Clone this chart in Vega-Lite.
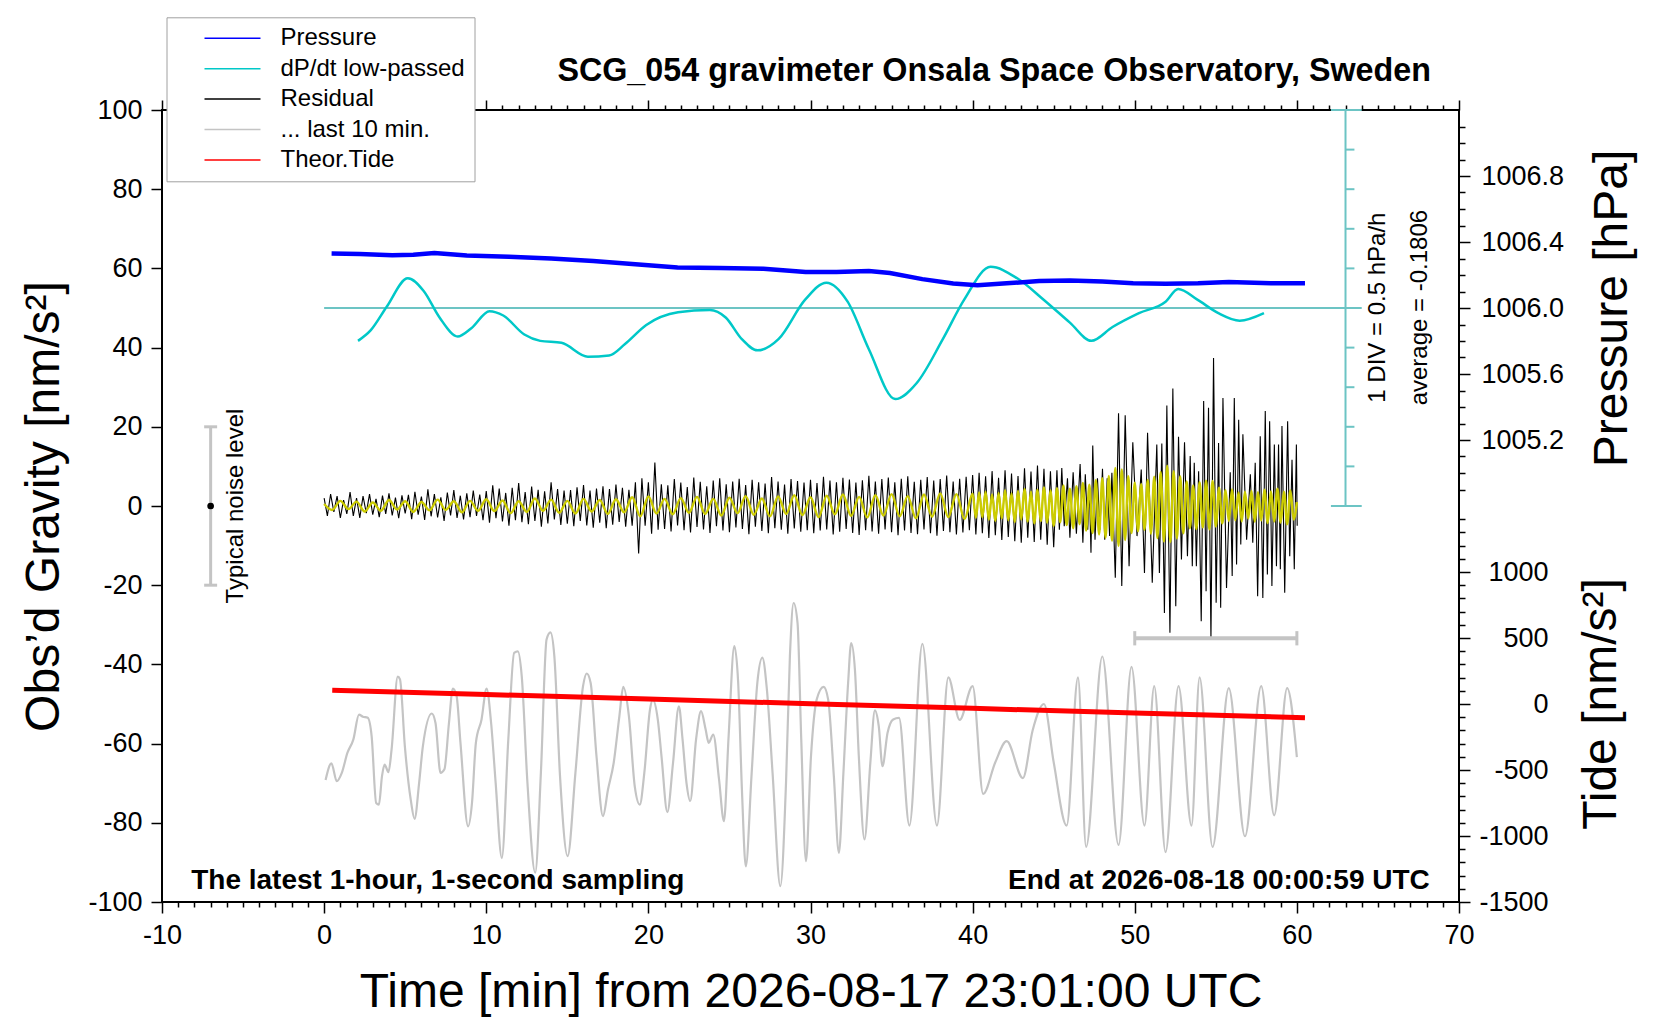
{
  "$schema": "https://vega.github.io/schema/vega-lite/v6.json",
  "width": 1297,
  "height": 792,
  "autosize": {"type": "none"},
  "padding": {"left": 162, "top": 110, "right": 201, "bottom": 118},
  "background": "white",
  "title": {
    "text": "SCG_054 gravimeter Onsala Space Observatory, Sweden",
    "anchor": "end", "frame": "group", "font": "Liberation Sans", "fontSize": 32.3, "fontWeight": "bold",
    "color": "black", "baseline": "alphabetic", "offset": 0, "dx": -28, "dy": 96
  },
  "datasets": {
    "pressure": [
      {"t": 0.46, "p": 1006.330}, {"t": 2.2, "p": 1006.327}, {"t": 4.2, "p": 1006.320}, {"t": 5.5, "p": 1006.323},
      {"t": 6.8, "p": 1006.333}, {"t": 8.8, "p": 1006.318}, {"t": 11.4, "p": 1006.310}, {"t": 14.0, "p": 1006.300},
      {"t": 16.6, "p": 1006.285}, {"t": 19.2, "p": 1006.265}, {"t": 21.8, "p": 1006.245}, {"t": 24.4, "p": 1006.242},
      {"t": 27.1, "p": 1006.238}, {"t": 29.7, "p": 1006.218}, {"t": 31.6, "p": 1006.218}, {"t": 33.6, "p": 1006.224},
      {"t": 34.9, "p": 1006.212}, {"t": 36.9, "p": 1006.175}, {"t": 38.8, "p": 1006.148}, {"t": 40.3, "p": 1006.138},
      {"t": 42.1, "p": 1006.150}, {"t": 44.1, "p": 1006.163}, {"t": 46.0, "p": 1006.166}, {"t": 48.0, "p": 1006.160},
      {"t": 49.9, "p": 1006.150}, {"t": 51.9, "p": 1006.147}, {"t": 53.9, "p": 1006.150}, {"t": 55.8, "p": 1006.157},
      {"t": 58.4, "p": 1006.150}, {"t": 60.5, "p": 1006.150}
    ],
    "dpdt": [
      {"t": 2.09, "g": 41.7}, {"t": 2.88, "g": 44.4}, {"t": 3.86, "g": 50.3}, {"t": 5.16, "g": 57.5}, {"t": 6.14, "g": 54.3},
      {"t": 7.12, "g": 47.6}, {"t": 8.24, "g": 42.8}, {"t": 9.08, "g": 44.9}, {"t": 10.2, "g": 49.2}, {"t": 11.05, "g": 48.1},
      {"t": 12.35, "g": 43.3}, {"t": 13.33, "g": 41.7}, {"t": 14.64, "g": 41.2}, {"t": 16.27, "g": 37.7}, {"t": 17.58, "g": 38.0},
      {"t": 18.56, "g": 40.9}, {"t": 19.87, "g": 45.7}, {"t": 21.83, "g": 48.9}, {"t": 23.79, "g": 49.5}, {"t": 24.77, "g": 47.6},
      {"t": 25.75, "g": 42.2}, {"t": 26.73, "g": 39.3}, {"t": 28.04, "g": 42.2}, {"t": 29.67, "g": 52.1}, {"t": 30.98, "g": 56.4},
      {"t": 32.29, "g": 51.6}, {"t": 33.6, "g": 39.6}, {"t": 35.23, "g": 27.0}, {"t": 36.54, "g": 31.0}, {"t": 38.17, "g": 42.2},
      {"t": 39.48, "g": 52.1}, {"t": 41.11, "g": 60.4}, {"t": 42.75, "g": 57.5}, {"t": 44.38, "g": 52.1}, {"t": 46.0, "g": 46.3},
      {"t": 47.32, "g": 41.7}, {"t": 48.63, "g": 45.2}, {"t": 50.26, "g": 48.7}, {"t": 51.9, "g": 51.6}, {"t": 52.68, "g": 54.8},
      {"t": 53.86, "g": 52.1}, {"t": 55.16, "g": 48.7}, {"t": 56.47, "g": 46.8}, {"t": 57.97, "g": 48.7}
    ],
    "tide": [
      {"t": 0.5, "tide": 105}, {"t": 10, "tide": 72}, {"t": 20, "tide": 37}, {"t": 30, "tide": 2},
      {"t": 40, "tide": -33}, {"t": 50, "tide": -68}, {"t": 60.5, "tide": -104}
    ],
    "grey": [
      {"t": 0.09, "g": -69.2}, {"t": 0.45, "g": -65.0}, {"t": 0.78, "g": -69.5}, {"t": 1.09, "g": -67.4}, {"t": 1.44, "g": -62.3},
      {"t": 1.80, "g": -59.0}, {"t": 2.15, "g": -52.7}, {"t": 2.39, "g": -53.2}, {"t": 2.69, "g": -53.5}, {"t": 2.93, "g": -58.1},
      {"t": 3.21, "g": -75.0}, {"t": 3.38, "g": -75.4}, {"t": 3.57, "g": -68.2}, {"t": 3.73, "g": -65.3}, {"t": 3.97, "g": -67.2},
      {"t": 4.16, "g": -61.5}, {"t": 4.54, "g": -43.1}, {"t": 4.68, "g": -43.8}, {"t": 4.98, "g": -60.7}, {"t": 5.34, "g": -74.1},
      {"t": 5.58, "g": -79.0}, {"t": 5.86, "g": -69.9}, {"t": 6.09, "g": -60.7}, {"t": 6.64, "g": -52.4}, {"t": 6.87, "g": -54.8},
      {"t": 7.18, "g": -67.4}, {"t": 7.42, "g": -66.5}, {"t": 7.70, "g": -54.8}, {"t": 7.94, "g": -46.1}, {"t": 8.17, "g": -48.0},
      {"t": 8.41, "g": -59.8}, {"t": 8.88, "g": -80.9}, {"t": 9.12, "g": -75.0}, {"t": 9.36, "g": -59.8}, {"t": 9.71, "g": -53.9},
      {"t": 10.02, "g": -46.1}, {"t": 10.30, "g": -54.8}, {"t": 10.58, "g": -69.9}, {"t": 10.96, "g": -88.9}, {"t": 11.36, "g": -59.0},
      {"t": 11.72, "g": -37.1}, {"t": 11.95, "g": -36.7}, {"t": 12.19, "g": -43.0}, {"t": 12.54, "g": -69.9}, {"t": 13.02, "g": -92.6},
      {"t": 13.37, "g": -67.4}, {"t": 13.72, "g": -33.7}, {"t": 13.96, "g": -31.9}, {"t": 14.20, "g": -37.9}, {"t": 14.55, "g": -68.2},
      {"t": 15.02, "g": -88.4}, {"t": 15.50, "g": -67.4}, {"t": 15.97, "g": -45.5}, {"t": 16.20, "g": -42.3}, {"t": 16.44, "g": -44.7},
      {"t": 16.80, "g": -63.2}, {"t": 17.20, "g": -78.3}, {"t": 17.51, "g": -71.6}, {"t": 17.86, "g": -64.9}, {"t": 18.21, "g": -53.1},
      {"t": 18.45, "g": -45.7}, {"t": 18.80, "g": -53.1}, {"t": 19.16, "g": -70.8}, {"t": 19.47, "g": -75.4}, {"t": 19.75, "g": -67.4},
      {"t": 20.10, "g": -51.4}, {"t": 20.27, "g": -48.9}, {"t": 20.58, "g": -53.9}, {"t": 20.81, "g": -63.2}, {"t": 21.17, "g": -77.3},
      {"t": 21.52, "g": -64.9}, {"t": 21.88, "g": -50.6}, {"t": 22.11, "g": -59.0}, {"t": 22.35, "g": -69.9}, {"t": 22.58, "g": -74.5},
      {"t": 22.94, "g": -59.0}, {"t": 23.25, "g": -51.8}, {"t": 23.53, "g": -56.4}, {"t": 23.72, "g": -59.8}, {"t": 24.00, "g": -57.7},
      {"t": 24.36, "g": -69.1}, {"t": 24.66, "g": -79.6}, {"t": 24.95, "g": -58.1}, {"t": 25.30, "g": -35.4}, {"t": 25.54, "g": -44.7},
      {"t": 25.77, "g": -71.6}, {"t": 26.01, "g": -91.0}, {"t": 26.36, "g": -68.2}, {"t": 26.72, "g": -44.7}, {"t": 27.03, "g": -38.3},
      {"t": 27.31, "g": -46.3}, {"t": 27.66, "g": -67.4}, {"t": 28.14, "g": -96.0}, {"t": 28.49, "g": -69.9}, {"t": 28.73, "g": -37.9},
      {"t": 28.96, "g": -24.5}, {"t": 29.20, "g": -29.5}, {"t": 29.43, "g": -59.0}, {"t": 29.72, "g": -89.7}, {"t": 30.03, "g": -63.2},
      {"t": 30.38, "g": -48.9}, {"t": 30.81, "g": -45.7}, {"t": 31.09, "g": -48.9}, {"t": 31.44, "g": -68.2}, {"t": 31.75, "g": -87.6},
      {"t": 32.03, "g": -67.4}, {"t": 32.32, "g": -44.7}, {"t": 32.51, "g": -34.6}, {"t": 32.74, "g": -41.3}, {"t": 32.98, "g": -63.2},
      {"t": 33.33, "g": -84.2}, {"t": 33.69, "g": -64.9}, {"t": 33.97, "g": -51.6}, {"t": 34.21, "g": -55.6}, {"t": 34.44, "g": -65.7},
      {"t": 34.75, "g": -57.3}, {"t": 35.10, "g": -53.9}, {"t": 35.46, "g": -53.5}, {"t": 36.1, "g": -80.7}, {"t": 36.9, "g": -34.8},
      {"t": 37.8, "g": -80.7}, {"t": 38.5, "g": -43.3}, {"t": 39.2, "g": -54.0}, {"t": 40.0, "g": -45.5}, {"t": 40.65, "g": -72.7},
      {"t": 41.4, "g": -64.7}, {"t": 42.1, "g": -59.4}, {"t": 43.1, "g": -68.7}, {"t": 43.7, "g": -56.7}, {"t": 44.4, "g": -50.0},
      {"t": 45.0, "g": -64.7}, {"t": 45.8, "g": -80.7}, {"t": 46.5, "g": -43.3}, {"t": 47.0, "g": -86.1}, {"t": 48.0, "g": -38.0},
      {"t": 49.0, "g": -85.6}, {"t": 49.8, "g": -40.6}, {"t": 50.6, "g": -80.7}, {"t": 51.2, "g": -45.5}, {"t": 51.9, "g": -87.4},
      {"t": 52.7, "g": -45.5}, {"t": 53.5, "g": -80.7}, {"t": 54.0, "g": -43.3}, {"t": 54.8, "g": -86.1}, {"t": 55.8, "g": -46.0},
      {"t": 56.8, "g": -83.4}, {"t": 57.8, "g": -45.5}, {"t": 58.6, "g": -78.1}, {"t": 59.4, "g": -46.0}, {"t": 60.0, "g": -63.4}
    ],
    "residual": [
      {"t": 0.0, "g": 2.0}, {"t": 0.2, "g": -2.5}, {"t": 0.4, "g": 3.0}, {"t": 0.6, "g": -1.5}, {"t": 0.8, "g": 2.5},
      {"t": 1.0, "g": -3.0}, {"t": 1.2, "g": 1.5}, {"t": 1.4, "g": -2.0}, {"t": 1.6, "g": 3.5}, {"t": 1.8, "g": -2.5},
      {"t": 2.0, "g": 2.0}, {"t": 2.2, "g": -3.0}, {"t": 2.4, "g": 2.5}, {"t": 2.6, "g": -1.8}, {"t": 2.8, "g": 3.0},
      {"t": 3.0, "g": -2.2}, {"t": 3.2, "g": 1.8}, {"t": 3.4, "g": -2.8}, {"t": 3.6, "g": 2.6}, {"t": 3.8, "g": -2.0},
      {"t": 4.0, "g": 3.2}, {"t": 4.2, "g": -2.4}, {"t": 4.4, "g": 2.1}, {"t": 4.6, "g": -3.1}, {"t": 4.8, "g": 2.7},
      {"t": 5.0, "g": -1.9}, {"t": 5.2, "g": 2.8}, {"t": 5.4, "g": -3.3}, {"t": 5.6, "g": 3.6}, {"t": 5.8, "g": -2.2},
      {"t": 6.0, "g": 2.4}, {"t": 6.2, "g": -3.5}, {"t": 6.4, "g": 4.2}, {"t": 6.6, "g": -2.6}, {"t": 6.8, "g": 3.0},
      {"t": 7.0, "g": -2.9}, {"t": 7.2, "g": 2.2}, {"t": 7.4, "g": -3.8}, {"t": 7.6, "g": 3.4}, {"t": 7.8, "g": -2.4},
      {"t": 8.0, "g": 4.0}, {"t": 8.2, "g": -3.0}, {"t": 8.4, "g": 2.6}, {"t": 8.6, "g": -3.4}, {"t": 8.8, "g": 3.2},
      {"t": 9.0, "g": -2.8}, {"t": 9.2, "g": 3.9}, {"t": 9.4, "g": -2.5}, {"t": 9.6, "g": 2.9}, {"t": 9.8, "g": -3.6},
      {"t": 10.0, "g": 3.8}, {"t": 10.2, "g": -4.2}, {"t": 10.4, "g": 5.2}, {"t": 10.6, "g": -3.1}, {"t": 10.8, "g": 4.4},
      {"t": 11.0, "g": -3.9}, {"t": 11.2, "g": 3.3}, {"t": 11.4, "g": -5.0}, {"t": 11.6, "g": 4.6}, {"t": 11.8, "g": -3.6},
      {"t": 12.0, "g": 5.8}, {"t": 12.2, "g": -4.1}, {"t": 12.4, "g": 3.5}, {"t": 12.6, "g": -4.6}, {"t": 12.8, "g": 4.9},
      {"t": 13.0, "g": -3.8}, {"t": 13.2, "g": 4.1}, {"t": 13.4, "g": -5.2}, {"t": 13.6, "g": 3.7}, {"t": 13.8, "g": -4.4},
      {"t": 14.0, "g": 6.0}, {"t": 14.2, "g": -3.4}, {"t": 14.4, "g": 4.3}, {"t": 14.6, "g": -4.8}, {"t": 14.8, "g": 3.9},
      {"t": 15.0, "g": -4.5}, {"t": 15.2, "g": 4.0}, {"t": 15.4, "g": -5.1}, {"t": 15.6, "g": 4.7}, {"t": 15.8, "g": -3.8},
      {"t": 16.0, "g": 5.3}, {"t": 16.2, "g": -4.9}, {"t": 16.4, "g": 3.9}, {"t": 16.6, "g": -5.5}, {"t": 16.8, "g": 4.4},
      {"t": 17.0, "g": -4.2}, {"t": 17.2, "g": 5.0}, {"t": 17.4, "g": -5.6}, {"t": 17.6, "g": 4.3}, {"t": 17.8, "g": -4.7},
      {"t": 18.0, "g": 5.4}, {"t": 18.2, "g": -4.0}, {"t": 18.4, "g": 4.6}, {"t": 18.6, "g": -5.2}, {"t": 18.8, "g": 4.1},
      {"t": 19.0, "g": -5.0}, {"t": 19.2, "g": 6.0}, {"t": 19.4, "g": -12.0}, {"t": 19.6, "g": 7.0}, {"t": 19.8, "g": -5.0},
      {"t": 20.0, "g": 6.0}, {"t": 20.2, "g": -7.0}, {"t": 20.4, "g": 11.0}, {"t": 20.6, "g": -6.0}, {"t": 20.8, "g": 5.5},
      {"t": 21.0, "g": -5.8}, {"t": 21.2, "g": 5.2}, {"t": 21.4, "g": -6.4}, {"t": 21.6, "g": 6.8}, {"t": 21.8, "g": -4.9},
      {"t": 22.0, "g": 5.9}, {"t": 22.2, "g": -6.1}, {"t": 22.4, "g": 4.8}, {"t": 22.6, "g": -6.7}, {"t": 22.8, "g": 7.2},
      {"t": 23.0, "g": -5.3}, {"t": 23.2, "g": 6.1}, {"t": 23.4, "g": -5.9}, {"t": 23.6, "g": 5.0}, {"t": 23.8, "g": -6.8},
      {"t": 24.0, "g": 6.4}, {"t": 24.2, "g": -5.1}, {"t": 24.4, "g": 7.0}, {"t": 24.6, "g": -6.2}, {"t": 24.8, "g": 5.5},
      {"t": 25.0, "g": -6.6}, {"t": 25.2, "g": 6.2}, {"t": 25.4, "g": -5.4}, {"t": 25.6, "g": 6.9}, {"t": 25.8, "g": -5.8},
      {"t": 26.0, "g": 5.3}, {"t": 26.2, "g": -7.1}, {"t": 26.4, "g": 6.6}, {"t": 26.6, "g": -5.2}, {"t": 26.8, "g": 6.0},
      {"t": 27.0, "g": -6.3}, {"t": 27.2, "g": 5.7}, {"t": 27.4, "g": -6.9}, {"t": 27.6, "g": 7.3}, {"t": 27.8, "g": -5.6},
      {"t": 28.0, "g": 6.2}, {"t": 28.2, "g": -6.0}, {"t": 28.4, "g": 5.4}, {"t": 28.6, "g": -7.0}, {"t": 28.8, "g": 6.8},
      {"t": 29.0, "g": -5.7}, {"t": 29.2, "g": 6.3}, {"t": 29.4, "g": -6.5}, {"t": 29.6, "g": 5.9}, {"t": 29.8, "g": -6.1},
      {"t": 30.0, "g": 6.6}, {"t": 30.2, "g": -6.9}, {"t": 30.4, "g": 5.8}, {"t": 30.6, "g": -6.2}, {"t": 30.8, "g": 7.4},
      {"t": 31.0, "g": -5.9}, {"t": 31.2, "g": 6.4}, {"t": 31.4, "g": -7.2}, {"t": 31.6, "g": 6.0}, {"t": 31.8, "g": -6.5},
      {"t": 32.0, "g": 7.1}, {"t": 32.2, "g": -5.8}, {"t": 32.4, "g": 6.7}, {"t": 32.6, "g": -6.8}, {"t": 32.8, "g": 5.9},
      {"t": 33.0, "g": -7.3}, {"t": 33.2, "g": 6.5}, {"t": 33.4, "g": -6.1}, {"t": 33.6, "g": 7.6}, {"t": 33.8, "g": -6.4},
      {"t": 34.0, "g": 6.2}, {"t": 34.2, "g": -7.0}, {"t": 34.4, "g": 6.8}, {"t": 34.6, "g": -5.9}, {"t": 34.8, "g": 7.2},
      {"t": 35.0, "g": -6.6}, {"t": 35.2, "g": 6.0}, {"t": 35.4, "g": -7.4}, {"t": 35.6, "g": 6.9}, {"t": 35.8, "g": -6.2},
      {"t": 36.0, "g": 7.5}, {"t": 36.2, "g": -6.8}, {"t": 36.4, "g": 6.1}, {"t": 36.6, "g": -7.1}, {"t": 36.8, "g": 6.6},
      {"t": 37.0, "g": -5.9}, {"t": 37.2, "g": 7.3}, {"t": 37.4, "g": -6.9}, {"t": 37.6, "g": 6.4}, {"t": 37.8, "g": -7.5},
      {"t": 38.0, "g": 6.8}, {"t": 38.2, "g": -6.3}, {"t": 38.4, "g": 7.7}, {"t": 38.6, "g": -6.6}, {"t": 38.8, "g": 6.2},
      {"t": 39.0, "g": -7.2}, {"t": 39.2, "g": 6.9}, {"t": 39.4, "g": -6.7}, {"t": 39.6, "g": 7.4}, {"t": 39.8, "g": -6.1},
      {"t": 40.0, "g": 7.8}, {"t": 40.2, "g": -7.2}, {"t": 40.4, "g": 8.4}, {"t": 40.6, "g": -6.9}, {"t": 40.8, "g": 7.5},
      {"t": 41.0, "g": -8.1}, {"t": 41.2, "g": 8.8}, {"t": 41.4, "g": -7.4}, {"t": 41.6, "g": 7.1}, {"t": 41.8, "g": -8.6},
      {"t": 42.0, "g": 9.0}, {"t": 42.2, "g": -7.8}, {"t": 42.4, "g": 8.2}, {"t": 42.6, "g": -8.9}, {"t": 42.8, "g": 7.6},
      {"t": 43.0, "g": -9.3}, {"t": 43.2, "g": 9.5}, {"t": 43.4, "g": -8.0}, {"t": 43.6, "g": 8.7}, {"t": 43.8, "g": -9.1},
      {"t": 44.0, "g": 10.2}, {"t": 44.2, "g": -8.5}, {"t": 44.4, "g": 9.4}, {"t": 44.6, "g": -9.8}, {"t": 44.8, "g": 8.8},
      {"t": 45.0, "g": -10.4}, {"t": 45.2, "g": 9.0}, {"t": 45.35, "g": -6.0}, {"t": 45.5, "g": 9.6}, {"t": 45.65, "g": -5.1},
      {"t": 45.85, "g": 7.0}, {"t": 46.0, "g": -8.0}, {"t": 46.2, "g": 8.5}, {"t": 46.4, "g": -7.0}, {"t": 46.63, "g": 10.6},
      {"t": 46.8, "g": -9.3}, {"t": 46.95, "g": 8.0}, {"t": 47.1, "g": -6.0}, {"t": 47.2, "g": 5.0}, {"t": 47.3, "g": -11.8},
      {"t": 47.41, "g": 15.3}, {"t": 47.55, "g": -8.5}, {"t": 47.7, "g": 7.0}, {"t": 47.85, "g": -6.0}, {"t": 48.01, "g": 9.4},
      {"t": 48.15, "g": -8.5}, {"t": 48.3, "g": 7.0}, {"t": 48.45, "g": -7.6}, {"t": 48.59, "g": 8.4}, {"t": 48.8, "g": -18.1},
      {"t": 49.0, "g": 23.4}, {"t": 49.2, "g": -20.2}, {"t": 49.41, "g": 22.9}, {"t": 49.65, "g": -15.2}, {"t": 49.88, "g": 16.1},
      {"t": 50.14, "g": -7.6}, {"t": 50.4, "g": 9.2}, {"t": 50.6, "g": -16.9}, {"t": 50.79, "g": 18.5}, {"t": 51.08, "g": -19.4},
      {"t": 51.36, "g": 15.5}, {"t": 51.52, "g": -16.9}, {"t": 51.67, "g": 15.8}, {"t": 51.83, "g": -27.0}, {"t": 51.98, "g": 25.4},
      {"t": 52.17, "g": -32.0}, {"t": 52.35, "g": 29.7}, {"t": 52.53, "g": -25.3}, {"t": 52.7, "g": 17.5}, {"t": 52.88, "g": -13.5},
      {"t": 53.07, "g": 16.1}, {"t": 53.25, "g": -12.7}, {"t": 53.42, "g": 12.6}, {"t": 53.55, "g": -15.2}, {"t": 53.67, "g": 10.9},
      {"t": 53.8, "g": -15.2}, {"t": 53.94, "g": 8.8}, {"t": 54.1, "g": -29.1}, {"t": 54.25, "g": 26.5}, {"t": 54.4, "g": -21.5},
      {"t": 54.55, "g": 24.8}, {"t": 54.7, "g": -33.7}, {"t": 54.86, "g": 37.4}, {"t": 55.02, "g": -24.4}, {"t": 55.17, "g": 15.9},
      {"t": 55.3, "g": -25.7}, {"t": 55.44, "g": 27.3}, {"t": 55.66, "g": -20.7}, {"t": 55.89, "g": 8.5}, {"t": 56.01, "g": -17.7},
      {"t": 56.14, "g": 27.3}, {"t": 56.28, "g": -14.8}, {"t": 56.41, "g": 21.8}, {"t": 56.54, "g": -9.7}, {"t": 56.67, "g": 18.1},
      {"t": 56.9, "g": -8.5}, {"t": 57.13, "g": 8.0}, {"t": 57.28, "g": -9.3}, {"t": 57.43, "g": 10.9}, {"t": 57.58, "g": -22.8},
      {"t": 57.74, "g": 17.6}, {"t": 57.9, "g": -23.2}, {"t": 58.05, "g": 24.0}, {"t": 58.18, "g": -17.3}, {"t": 58.32, "g": 21.4},
      {"t": 58.46, "g": -20.2}, {"t": 58.61, "g": 15.5}, {"t": 58.74, "g": -15.2}, {"t": 58.87, "g": 15.5}, {"t": 58.98, "g": -16.0},
      {"t": 59.08, "g": 20.2}, {"t": 59.25, "g": -21.9}, {"t": 59.43, "g": 21.4}, {"t": 59.56, "g": -12.7}, {"t": 59.7, "g": 11.7},
      {"t": 59.84, "g": -16.0}, {"t": 59.97, "g": 15.5}, {"t": 60.02, "g": -5.0}
    ],
    "yellow": [
      {"t": 0.0, "g": 0.5}, {"t": 0.5, "g": -1.0}, {"t": 1.0, "g": 1.3}, {"t": 1.5, "g": -0.8}, {"t": 2.0, "g": 1.1},
      {"t": 2.5, "g": -1.4}, {"t": 3.0, "g": 0.9}, {"t": 3.5, "g": -1.2}, {"t": 4.0, "g": 1.5}, {"t": 4.5, "g": -0.9},
      {"t": 5.0, "g": 1.2}, {"t": 5.5, "g": -1.5}, {"t": 6.0, "g": 1.0}, {"t": 6.5, "g": -1.1}, {"t": 7.0, "g": 1.6},
      {"t": 7.5, "g": -1.0}, {"t": 8.0, "g": 1.2}, {"t": 8.5, "g": -1.6}, {"t": 9.0, "g": 1.3}, {"t": 9.5, "g": -1.2},
      {"t": 10.0, "g": 1.7}, {"t": 10.5, "g": -1.3}, {"t": 11.0, "g": 1.4}, {"t": 11.5, "g": -1.8}, {"t": 12.0, "g": 1.2},
      {"t": 12.5, "g": -1.5}, {"t": 13.0, "g": 1.9}, {"t": 13.5, "g": -1.2}, {"t": 14.0, "g": 1.6}, {"t": 14.5, "g": -1.7},
      {"t": 15.0, "g": 1.3}, {"t": 15.5, "g": -1.9}, {"t": 16.0, "g": 1.8}, {"t": 16.5, "g": -1.4}, {"t": 17.0, "g": 1.5},
      {"t": 17.5, "g": -2.0}, {"t": 18.0, "g": 1.7}, {"t": 18.5, "g": -1.6}, {"t": 19.0, "g": 2.2}, {"t": 19.5, "g": -2.6},
      {"t": 20.0, "g": 2.4}, {"t": 20.5, "g": -1.9}, {"t": 21.0, "g": 1.8}, {"t": 21.5, "g": -2.1}, {"t": 22.0, "g": 2.0},
      {"t": 22.5, "g": -1.7}, {"t": 23.0, "g": 2.3}, {"t": 23.5, "g": -2.0}, {"t": 24.0, "g": 1.8}, {"t": 24.5, "g": -2.4},
      {"t": 25.0, "g": 2.1}, {"t": 25.5, "g": -1.8}, {"t": 26.0, "g": 2.5}, {"t": 26.5, "g": -2.2}, {"t": 27.0, "g": 1.9},
      {"t": 27.5, "g": -2.6}, {"t": 28.0, "g": 2.4}, {"t": 28.5, "g": -2.0}, {"t": 29.0, "g": 2.7}, {"t": 29.5, "g": -2.3},
      {"t": 30.0, "g": 2.2}, {"t": 30.5, "g": -2.8}, {"t": 31.0, "g": 2.6}, {"t": 31.5, "g": -2.1}, {"t": 32.0, "g": 2.9},
      {"t": 32.5, "g": -2.5}, {"t": 33.0, "g": 2.3}, {"t": 33.5, "g": -2.9}, {"t": 34.0, "g": 2.7}, {"t": 34.5, "g": -2.4},
      {"t": 35.0, "g": 3.0}, {"t": 35.5, "g": -2.6}, {"t": 36.0, "g": 2.5}, {"t": 36.5, "g": -3.1}, {"t": 37.0, "g": 2.9},
      {"t": 37.5, "g": -2.7}, {"t": 38.0, "g": 3.2}, {"t": 38.5, "g": -2.8}, {"t": 39.0, "g": 3.0}, {"t": 39.5, "g": -3.3},
      {"t": 40.0, "g": 3.1}, {"t": 40.2, "g": -3.0}, {"t": 40.4, "g": 3.4}, {"t": 40.6, "g": -2.8}, {"t": 40.8, "g": 3.6},
      {"t": 41.0, "g": -3.5}, {"t": 41.2, "g": 2.9}, {"t": 41.4, "g": -3.8}, {"t": 41.6, "g": 3.3}, {"t": 41.8, "g": -3.1},
      {"t": 42.0, "g": 4.0}, {"t": 42.2, "g": -3.6}, {"t": 42.4, "g": 3.2}, {"t": 42.6, "g": -4.1}, {"t": 42.8, "g": 3.8},
      {"t": 43.0, "g": -3.4}, {"t": 43.2, "g": 4.3}, {"t": 43.4, "g": -3.9}, {"t": 43.6, "g": 3.6}, {"t": 43.8, "g": -4.4},
      {"t": 44.0, "g": 4.1}, {"t": 44.2, "g": -3.8}, {"t": 44.4, "g": 4.7}, {"t": 44.6, "g": -4.2}, {"t": 44.8, "g": 3.9},
      {"t": 45.0, "g": -5.0}, {"t": 45.2, "g": 4.5}, {"t": 45.4, "g": -4.1}, {"t": 45.6, "g": 5.2}, {"t": 45.8, "g": -4.8},
      {"t": 46.0, "g": 4.4}, {"t": 46.2, "g": -5.6}, {"t": 46.4, "g": 5.0}, {"t": 46.6, "g": -4.6}, {"t": 46.8, "g": 5.8},
      {"t": 47.0, "g": -6.2}, {"t": 47.2, "g": 5.4}, {"t": 47.4, "g": -6.8}, {"t": 47.6, "g": 6.5}, {"t": 47.8, "g": -7.2},
      {"t": 48.0, "g": 7.0}, {"t": 48.2, "g": -8.0}, {"t": 48.4, "g": 7.6}, {"t": 48.6, "g": -8.8}, {"t": 48.8, "g": 9.6},
      {"t": 49.0, "g": -10.1}, {"t": 49.2, "g": 9.2}, {"t": 49.4, "g": -8.6}, {"t": 49.6, "g": 7.5}, {"t": 49.8, "g": -6.8},
      {"t": 50.0, "g": 5.9}, {"t": 50.2, "g": -6.4}, {"t": 50.4, "g": 5.5}, {"t": 50.6, "g": -6.0}, {"t": 50.8, "g": 6.6},
      {"t": 51.0, "g": -7.0}, {"t": 51.2, "g": 7.4}, {"t": 51.4, "g": -8.1}, {"t": 51.6, "g": 8.6}, {"t": 51.8, "g": -9.0},
      {"t": 52.0, "g": 10.2}, {"t": 52.2, "g": -9.1}, {"t": 52.4, "g": 8.8}, {"t": 52.6, "g": -8.2}, {"t": 52.8, "g": 7.5},
      {"t": 53.0, "g": -6.9}, {"t": 53.2, "g": 6.2}, {"t": 53.4, "g": -5.6}, {"t": 53.6, "g": 5.2}, {"t": 53.8, "g": -5.8},
      {"t": 54.0, "g": 6.0}, {"t": 54.2, "g": -5.4}, {"t": 54.4, "g": 6.4}, {"t": 54.6, "g": -5.9}, {"t": 54.8, "g": 6.3},
      {"t": 55.0, "g": -5.2}, {"t": 55.2, "g": 4.6}, {"t": 55.4, "g": -4.4}, {"t": 55.6, "g": 4.0}, {"t": 55.8, "g": -3.8},
      {"t": 56.0, "g": 4.2}, {"t": 56.2, "g": -3.6}, {"t": 56.4, "g": 3.4}, {"t": 56.6, "g": -3.9}, {"t": 56.8, "g": 3.6},
      {"t": 57.0, "g": -3.2}, {"t": 57.2, "g": 3.8}, {"t": 57.4, "g": -4.0}, {"t": 57.6, "g": 3.5}, {"t": 57.8, "g": -3.7},
      {"t": 58.0, "g": 4.1}, {"t": 58.2, "g": -4.3}, {"t": 58.4, "g": 3.7}, {"t": 58.6, "g": -3.9}, {"t": 58.8, "g": 4.4},
      {"t": 59.0, "g": -4.2}, {"t": 59.2, "g": 3.6}, {"t": 59.4, "g": -4.6}, {"t": 59.6, "g": 3.9}, {"t": 59.8, "g": -3.4},
      {"t": 60.0, "g": 1.0}
    ],
    "cyanH": [
      {"t": 0, "t2": 64, "g": 50},
      {"t": 62.1, "t2": 64, "g": 0}, {"t": 62.1, "t2": 64, "g": 100},
      {"t": 63, "t2": 63.55, "g": 10}, {"t": 63, "t2": 63.55, "g": 20}, {"t": 63, "t2": 63.55, "g": 30},
      {"t": 63, "t2": 63.55, "g": 40}, {"t": 63, "t2": 63.55, "g": 60}, {"t": 63, "t2": 63.55, "g": 70},
      {"t": 63, "t2": 63.55, "g": 80}, {"t": 63, "t2": 63.55, "g": 90}
    ],
    "cyanV": [{"t": 63, "g": 0, "g2": 100}],
    "greyV": [
      {"t": -7, "g": -20, "g2": 20},
      {"t": 50, "g": -31.6, "g2": -35.2}, {"t": 60, "g": -31.6, "g2": -35.2}
    ],
    "noiseCaps": [{"t": -7.4, "t2": -6.6, "g": 20}, {"t": -7.4, "t2": -6.6, "g": -20}],
    "last10": [{"t": 50, "t2": 60, "g": -33.4}],
    "dot": [{"t": -7, "g": 0}],
    "notesLeft": [{"t": -8.2, "g": -96.7, "text": "The latest 1-hour, 1-second sampling"}],
    "notesRight": [{"t": 68.2, "g": -96.7, "text": "End at 2026-08-18 00:00:59 UTC"}],
    "notesRot": [
      {"t": -5.42, "g": 0, "text": "Typical noise level"},
      {"t": 65.03, "g": 50.1, "text": "1 DIV = 0.5 hPa/h"},
      {"t": 67.6, "g": 50.1, "text": "average = -0.1806"}
    ]
  },
  "layer": [
    {
      "layer": [
        {
          "data": {"name": "grey"},
          "mark": {"type": "line", "strokeWidth": 2.2, "interpolate": "monotone"},
          "encoding": {
            "x": {
              "field": "t", "type": "quantitative",
              "scale": {"domain": [-10, 70], "nice": false, "zero": false},
              "axis": {
                "orient": "bottom",
                "values": [-10, 0, 10, 20, 30, 40, 50, 60, 70],
                "labelExpr": "'' + datum.value",
                "labelOverlap": false,
                "tickSize": 11,
                "labelPadding": 9,
                "title": "Time [min] from 2026-08-17 23:01:00 UTC",
                "titleX": 648.5, "titleY": 104, "titleBaseline": "alphabetic", "titleAlign": "center"
              }
            },
            "y": {
              "field": "g", "type": "quantitative",
              "scale": {"domain": [-100, 100], "nice": false, "zero": false},
              "axis": {
                "orient": "left",
                "values": [-100,-90,-80,-70,-60,-50,-40,-30,-20,-10,0,10,20,30,40,50,60,70,80,90,100],
                "labelExpr": "datum.value % 20 === 0 ? '' + datum.value : ''",
                "labelOverlap": false,
                "tickSize": {"condition": {"test": "datum.value % 20 === 0", "value": 11}, "value": 6},
                "labelPadding": 9,
                "title": "Obs’d Gravity [nm/s²]",
                "titleAngle": 270, "titleX": -103.5, "titleY": 396, "titleBaseline": "alphabetic", "titleAlign": "center"
              }
            },
            "color": {
              "datum": "... last 10 min.",
              "scale": {
                "domain": ["Pressure", "dP/dt low-passed", "Residual", "... last 10 min.", "Theor.Tide"],
                "range": ["#0000ff", "#00c8c8", "#000000", "#c4c4c4", "#ff0000"]
              },
              "legend": {
                "orient": "none", "legendX": 4.5, "legendY": -92.7,
                "title": null,
                "fillColor": "white", "strokeColor": "#a0a0a0", "padding": 9,
                "labelFont": "Liberation Sans", "labelFontSize": 24, "labelColor": "black", "labelLimit": 500,
                "labelBaseline": "middle", "labelOffset": 19,
                "symbolType": "stroke", "symbolSize": 3136, "symbolOffset": 28, "symbolStrokeWidth": 1.5, "clipHeight": 24, "rowPadding": 6.4
              }
            }
          }
        },
        {
          "data": {"name": "residual"},
          "mark": {"type": "line", "strokeWidth": 1.1},
          "encoding": {
            "x": {"field": "t", "type": "quantitative", "scale": {"domain": [-10, 70], "nice": false, "zero": false}},
            "y": {"field": "g", "type": "quantitative"},
            "color": {"datum": "Residual", "scale": {"domain": ["Pressure", "dP/dt low-passed", "Residual", "... last 10 min.", "Theor.Tide"], "range": ["#0000ff", "#00c8c8", "#000000", "#c4c4c4", "#ff0000"]}}
          }
        },
        {
          "data": {"name": "yellow"},
          "mark": {"type": "line", "strokeWidth": 2.4, "color": "#cccc00", "interpolate": "monotone"},
          "encoding": {
            "x": {"field": "t", "type": "quantitative"},
            "y": {"field": "g", "type": "quantitative"}
          }
        },
        {
          "data": {"name": "cyanH"},
          "mark": {"type": "rule", "color": "#6cc4c4", "strokeWidth": 2},
          "encoding": {
            "x": {"field": "t", "type": "quantitative"},
            "x2": {"field": "t2"},
            "y": {"field": "g", "type": "quantitative"}
          }
        },
        {
          "data": {"name": "cyanV"},
          "mark": {"type": "rule", "color": "#6cc4c4", "strokeWidth": 2},
          "encoding": {
            "x": {"field": "t", "type": "quantitative"},
            "y": {"field": "g", "type": "quantitative"},
            "y2": {"field": "g2"}
          }
        },
        {
          "data": {"name": "dpdt"},
          "mark": {"type": "line", "strokeWidth": 2.5, "interpolate": "monotone"},
          "encoding": {
            "x": {"field": "t", "type": "quantitative"},
            "y": {"field": "g", "type": "quantitative"},
            "color": {"datum": "dP/dt low-passed", "scale": {"domain": ["Pressure", "dP/dt low-passed", "Residual", "... last 10 min.", "Theor.Tide"], "range": ["#0000ff", "#00c8c8", "#000000", "#c4c4c4", "#ff0000"]}}
          }
        },
        {
          "data": {"name": "greyV"},
          "mark": {"type": "rule", "color": "#c4c4c4", "strokeWidth": 3},
          "encoding": {
            "x": {"field": "t", "type": "quantitative"},
            "y": {"field": "g", "type": "quantitative"},
            "y2": {"field": "g2"}
          }
        },
        {
          "data": {"name": "noiseCaps"},
          "mark": {"type": "rule", "color": "#c4c4c4", "strokeWidth": 3},
          "encoding": {
            "x": {"field": "t", "type": "quantitative"},
            "x2": {"field": "t2"},
            "y": {"field": "g", "type": "quantitative"}
          }
        },
        {
          "data": {"name": "last10"},
          "mark": {"type": "rule", "color": "#c4c4c4", "strokeWidth": 4},
          "encoding": {
            "x": {"field": "t", "type": "quantitative"},
            "x2": {"field": "t2"},
            "y": {"field": "g", "type": "quantitative"}
          }
        },
        {
          "data": {"name": "dot"},
          "mark": {"type": "point", "filled": true, "color": "black", "size": 45, "opacity": 1},
          "encoding": {
            "x": {"field": "t", "type": "quantitative"},
            "y": {"field": "g", "type": "quantitative"}
          }
        },
        {
          "data": {"name": "notesLeft"},
          "mark": {"type": "text", "align": "left", "baseline": "alphabetic", "font": "Liberation Sans", "fontSize": 28, "fontWeight": "bold", "color": "black"},
          "encoding": {
            "x": {"field": "t", "type": "quantitative"},
            "y": {"field": "g", "type": "quantitative"},
            "text": {"field": "text"}
          }
        },
        {
          "data": {"name": "notesRight"},
          "mark": {"type": "text", "align": "right", "baseline": "alphabetic", "font": "Liberation Sans", "fontSize": 28, "fontWeight": "bold", "color": "black"},
          "encoding": {
            "x": {"field": "t", "type": "quantitative"},
            "y": {"field": "g", "type": "quantitative"},
            "text": {"field": "text"}
          }
        },
        {
          "data": {"name": "notesRot"},
          "mark": {"type": "text", "align": "center", "baseline": "middle", "angle": 270, "font": "Liberation Sans", "fontSize": 24, "color": "black"},
          "encoding": {
            "x": {"field": "t", "type": "quantitative"},
            "y": {"field": "g", "type": "quantitative"},
            "text": {"field": "text"}
          }
        }
      ]
    },
    {
      "data": {"name": "pressure"},
      "mark": {"type": "line", "strokeWidth": 4.5},
      "encoding": {
        "x": {
          "field": "t", "type": "quantitative",
          "scale": {"domain": [-10, 70], "nice": false, "zero": false},
          "axis": {
            "orient": "top",
            "values": [-10,-9,-8,-7,-6,-5,-4,-3,-2,-1,0,1,2,3,4,5,6,7,8,9,10,11,12,13,14,15,16,17,18,19,20,21,22,23,24,25,26,27,28,29,30,31,32,33,34,35,36,37,38,39,40,41,42,43,44,45,46,47,48,49,50,51,52,53,54,55,56,57,58,59,60,61,62,63,64,65,66,67,68,69,70],
            "labels": false, "title": null,
            "tickSize": {"condition": {"test": "datum.value % 10 === 0", "value": 10}, "value": 5}
          }
        },
        "y": {
          "field": "p", "type": "quantitative",
          "scale": {"domain": [1002.4, 1007.2], "nice": false, "zero": false},
          "axis": {
            "orient": "right",
            "values": [1004.9,1005.0,1005.1,1005.2,1005.3,1005.4,1005.5,1005.6,1005.7,1005.8,1005.9,1006.0,1006.1,1006.2,1006.3,1006.4,1006.5,1006.6,1006.7,1006.8,1006.9,1007.0,1007.1],
            "labelExpr": "indexof(['1005.2','1005.6','1006.0','1006.4','1006.8'], format(datum.value, '.1f')) >= 0 ? format(datum.value, '.1f') : ''",
            "labelOverlap": false,
            "tickSize": {"condition": {"test": "indexof(['1005.2','1005.6','1006.0','1006.4','1006.8'], format(datum.value, '.1f')) >= 0", "value": 11}, "value": 6},
            "labelPadding": 11,
            "title": "Pressure [hPa]",
            "titleAngle": 270, "titleX": 167, "titleY": 198, "titleBaseline": "alphabetic", "titleAlign": "center"
          }
        },
        "color": {"datum": "Pressure", "scale": {"domain": ["Pressure", "dP/dt low-passed", "Residual", "... last 10 min.", "Theor.Tide"], "range": ["#0000ff", "#00c8c8", "#000000", "#c4c4c4", "#ff0000"]}}
      }
    },
    {
      "data": {"name": "tide"},
      "mark": {"type": "line", "strokeWidth": 5},
      "encoding": {
        "x": {
          "field": "t", "type": "quantitative",
          "scale": {"domain": [-10, 70], "nice": false, "zero": false},
          "axis": {
            "orient": "bottom",
            "values": [-9,-8,-7,-6,-5,-4,-3,-2,-1,1,2,3,4,5,6,7,8,9,11,12,13,14,15,16,17,18,19,21,22,23,24,25,26,27,28,29,31,32,33,34,35,36,37,38,39,41,42,43,44,45,46,47,48,49,51,52,53,54,55,56,57,58,59,61,62,63,64,65,66,67,68,69],
            "labels": false, "title": null, "tickSize": 5
          }
        },
        "y": {
          "field": "tide", "type": "quantitative",
          "scale": {"domain": [-1500, 4500], "nice": false, "zero": false},
          "axis": {
            "orient": "right",
            "values": [-1500,-1400,-1300,-1200,-1100,-1000,-900,-800,-700,-600,-500,-400,-300,-200,-100,0,100,200,300,400,500,600,700,800,900,1000,1100,1200,1300,1400],
            "labelExpr": "datum.value % 500 === 0 && datum.value <= 1000 ? '' + datum.value : ''",
            "labelOverlap": false,
            "tickSize": {"condition": {"test": "datum.value % 500 === 0", "value": 11}, "value": 6},
            "labelAlign": "right", "labelPadding": 78,
            "title": "Tide [nm/s²]",
            "titleAngle": 270, "titleX": 156, "titleY": 593.5, "titleBaseline": "alphabetic", "titleAlign": "center"
          }
        },
        "color": {"datum": "Theor.Tide", "scale": {"domain": ["Pressure", "dP/dt low-passed", "Residual", "... last 10 min.", "Theor.Tide"], "range": ["#0000ff", "#00c8c8", "#000000", "#c4c4c4", "#ff0000"]}}
      }
    }
  ],
  "resolve": {"scale": {"y": "independent"}, "axis": {"x": "independent", "y": "independent"}},
  "config": {
    "font": "Liberation Sans",
    "view": {"stroke": "black", "strokeWidth": 2},
    "axis": {
      "grid": false, "domain": false,
      "labelFont": "Liberation Sans", "labelFontSize": 27, "labelColor": "black",
      "labelFlush": false, "labelOverlap": false, "labelBound": false,
      "tickColor": "black", "tickWidth": 1.5,
      "titleFont": "Liberation Sans", "titleFontSize": 48, "titleFontWeight": "normal", "titleColor": "black", "titleLimit": 2000
    }
  }
}
